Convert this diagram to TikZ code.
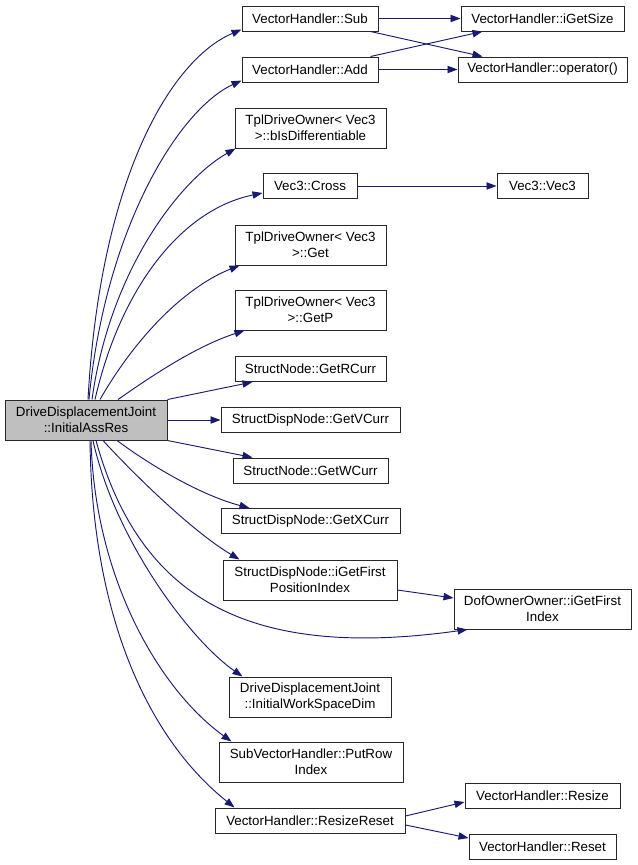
\documentclass[tikz,border=0pt]{standalone}
\usepackage{fontspec}
\setmainfont{Liberation Sans}
\usepackage{tikz}
\usetikzlibrary{arrows.meta, calc}
\definecolor{callblue}{RGB}{25,25,112}
\definecolor{boxgray}{RGB}{191,191,191}
\definecolor{boxline}{RGB}{40,40,40}

\begin{document}
\begin{tikzpicture}[x=0.75pt, y=-0.75pt,
  fn/.style={draw=boxline, line width=0.75pt, fill=white, inner sep=1pt,
             minimum height=18.75pt, align=center, font=\fontsize{10}{12}\selectfont},
  fntwo/.style={fn, minimum height=30pt},
  bw/.style={minimum width=#1*0.75pt},
  fnroot/.style={fntwo, fill=boxgray},
  call/.style={draw=callblue, line width=0.7pt, -{Triangle[length=7.5pt, width=5.5pt]}}]

\useasboundingbox (0,0) rectangle (637,865);

% caller
\node[fnroot, bw=162] (root) at (86,420) {DriveDisplacementJoint\\::InitialAssRes};

% callees, first column
\node[fn, bw=136] (sub) at (310,18.5) {VectorHandler::Sub};
\node[fn, bw=136] (add) at (310,69.5) {VectorHandler::Add};
\node[fntwo, bw=151] (bis) at (310.5,128) {TplDriveOwner< Vec3\\>::bIsDifferentiable};
\node[fn, bw=94] (cross) at (310,186) {Vec3::Cross};
\node[fntwo, bw=151] (get) at (310.5,245) {TplDriveOwner< Vec3\\>::Get};
\node[fntwo, bw=151] (getp) at (310.5,310) {TplDriveOwner< Vec3\\>::GetP};
\node[fn, bw=151] (rcurr) at (310.5,369) {StructNode::GetRCurr};
\node[fn, bw=179] (vcurr) at (310.5,420) {StructDispNode::GetVCurr};
\node[fn, bw=155] (wcurr) at (310.5,470.5) {StructNode::GetWCurr};
\node[fn, bw=179] (xcurr) at (310.5,521) {StructDispNode::GetXCurr};
\node[fntwo, bw=174] (gfpi) at (310,580) {StructDispNode::iGetFirst\\PositionIndex};
\node[fntwo, bw=162] (iwsd) at (310,697) {DriveDisplacementJoint\\::InitialWorkSpaceDim};
\node[fntwo, bw=184] (putrow) at (311,762) {SubVectorHandler::PutRow\\Index};
\node[fn, bw=190] (rreset) at (310,820.5) {VectorHandler::ResizeReset};

% callees, second column
\node[fn, bw=163] (igetsize) at (542.5,18.5) {VectorHandler::iGetSize};
\node[fn, bw=169] (oper) at (542.5,69.5) {VectorHandler::operator()};
\node[fn, bw=91] (vec) at (542.5,186) {Vec3::Vec3};
\node[fntwo, bw=177] (dof) at (542.5,609) {DofOwnerOwner::iGetFirst\\Index};
\node[fn, bw=155] (resize) at (542.5,795.5) {VectorHandler::Resize};
\node[fn, bw=147] (reset) at (542.5,846.5) {VectorHandler::Reset};

% calls from the caller
\draw[call] ($(root.north)+(2,0)$) .. controls (100,180) and (170,60) .. ($(sub.south west)+(0,-2)$);
\draw[call] ($(root.north)+(3,0)$) .. controls (105,230) and (178,110) .. ($(add.south west)+(0,-2)$);
\draw[call] ($(root.north)+(6,0)$) .. controls (110,270) and (180,180) .. ($(bis.south west)+(1,0)$);
\draw[call] ($(root.north)+(9,0)$) .. controls (120,290) and (180,210) .. ($(cross.west)+(0,7)$);
\draw[call] ($(root.north)+(14,0)$) .. controls (140,330) and (190,285) .. ($(get.south west)+(5,0)$);
\draw[call] ($(root.north)+(32,0)$) .. controls (160,370) and (200,345) .. ($(getp.south west)+(10,0)$);
\draw[call] (root.north east) -- ($(rcurr.south west)+(18,0)$);
\draw[call] (root.east) -- (vcurr.west);
\draw[call] (root.south east) -- ($(wcurr.north west)+(20,0)$);
\draw[call] ($(root.south)+(31,0)$) .. controls (150,465) and (200,495) .. ($(xcurr.north west)+(29,0)$);
\draw[call] ($(root.south)+(17,0)$) .. controls (130,470) and (190,530) .. ($(gfpi.north west)+(17,0)$);
\draw[call] ($(root.south)+(10,0)$) .. controls (140,600) and (250,660) .. ($(dof.south west)+(14,0)$);
\draw[call] ($(root.south)+(7,0)$) .. controls (115,540) and (190,640) .. ($(iwsd.north west)+(14,0)$);
\draw[call] ($(root.south)+(5,0)$) .. controls (95,580) and (160,690) .. ($(putrow.north west)+(13,0)$);
\draw[call] ($(root.south)+(4,0)$) .. controls (92,620) and (150,740) .. ($(rreset.north west)+(20,0)$);

% calls further down
\draw[call] (sub.east) -- (igetsize.west);
\draw[call] ($(sub.south east)+(-8,0)$) -- ($(oper.north west)+(25,0)$);
\draw[call] ($(add.north east)+(-8,0)$) -- ($(igetsize.south west)+(22,0)$);
\draw[call] (add.east) -- (oper.west);
\draw[call] (cross.east) -- (vec.west);
\draw[call] ($(gfpi.east)+(0,10)$) -- ($(dof.west)+(0,-11)$);
\draw[call] ($(rreset.east)+(0,-4.5)$) -- ($(resize.west)+(0,6.5)$);
\draw[call] ($(rreset.east)+(0,4.5)$) -- ($(reset.west)+(0,-8.5)$);

\end{tikzpicture}
\end{document}
